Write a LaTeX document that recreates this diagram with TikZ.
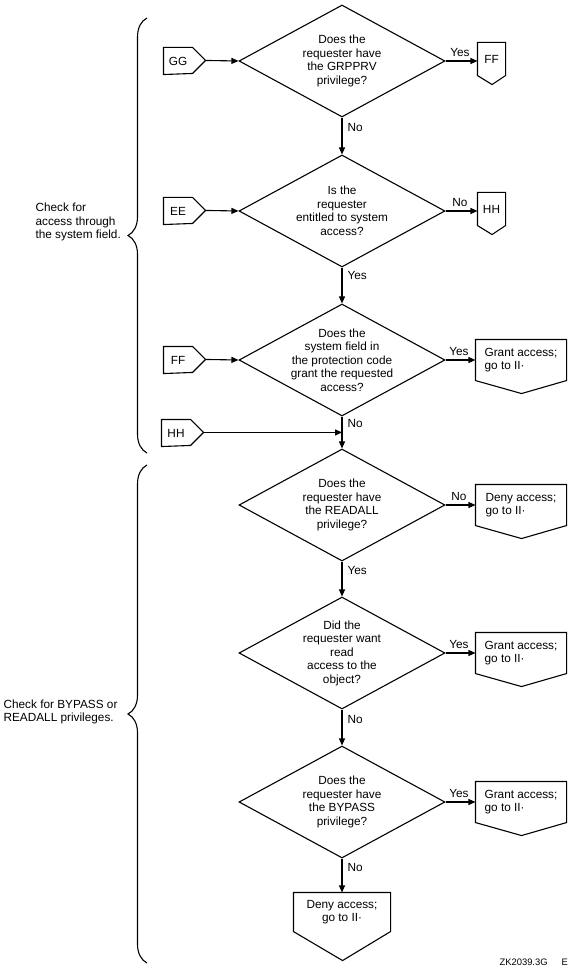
\documentclass[tikz,border=0pt]{standalone}
\usepackage{fontspec}
\setmainfont{Liberation Sans}
\usetikzlibrary{positioning}
\usetikzlibrary{shapes.geometric}
\usetikzlibrary{arrows.meta}
\usetikzlibrary{decorations.pathreplacing}

\begin{document}
\begin{tikzpicture}[x=1pt, y=-1pt, line width=1.1pt,
  every node/.style={font=\fontsize{11.8}{13.5}\selectfont, inner sep=0pt},
  >={Triangle[length=7pt,width=6pt]},
  question/.style={diamond, draw=black, minimum width=206pt, minimum height=112pt},
  qtext/.style={align=center},
  entry/.style={rectangle, minimum width=28pt, minimum height=26pt},
  exit/.style={rectangle, minimum width=27pt, minimum height=32pt},
  outcome/.style={rectangle, minimum width=90pt, minimum height=40pt, align=left}
]
  \useasboundingbox (0,0) rectangle (575,973);

  % system field checks
  \node[question] (q1) at (342, 61) {};
  \node[qtext] (q1t) at (q1) {Does the\\requester have\\the GRPPRV\\privilege?};
  \node[question] (q2) at (342, 211) {};
  \node[qtext] (q2t) at (q2) {Is the\\requester\\entitled to system\\access?};
  \node[question] (q3) at (342, 360) {};
  \node[qtext] (q3t) at (q3) {Does the\\system field in\\the protection code\\grant the requested\\access?};

  \node[entry] (gg) at (178, 61) {GG};
  \node[entry] (ee) at (178, 211) {EE};
  \node[entry] (ff) at (178, 360) {FF};
  \node[entry] (hh) at (176, 433) {HH};
  \draw (gg.north west) -- (gg.north east) -- ++(13,13) coordinate (ggtip) -- ++(-13,13) -- (gg.south west) -- cycle;
  \draw (ee.north west) -- (ee.north east) -- ++(13,13) coordinate (eetip) -- ++(-13,13) -- (ee.south west) -- cycle;
  \draw (ff.north west) -- (ff.north east) -- ++(13,13) coordinate (fftip) -- ++(-13,13) -- (ff.south west) -- cycle;
  \draw (hh.north west) -- (hh.north east) -- ++(13,13) coordinate (hhtip) -- ++(-13,13) -- (hh.south west) -- cycle;

  \node[exit] (ffout) at (491.5, 59) {FF};
  \node[exit] (hhout) at (491.5, 209) {HH};
  \draw (ffout.south west) -- (ffout.north west) -- (ffout.north east) -- (ffout.south east) -- ++(-13.5,9) -- cycle;
  \draw (hhout.south west) -- (hhout.north west) -- (hhout.north east) -- (hhout.south east) -- ++(-13.5,9) -- cycle;

  \node[outcome] (grant1) at (521, 360) {Grant access;\\go to II·};
  \draw (grant1.south west) -- (grant1.north west) -- (grant1.north east) -- (grant1.south east) -- ++(-45,13) -- cycle;

  \draw[->] (ggtip) -- (q1.west);
  \draw[->] (eetip) -- (q2.west);
  \draw[->] (fftip) -- (q3.west);
  \draw[->] (hhtip) -- (hhtip -| q3.south);

  \draw[->] (q1.east) -- node[above=4pt, pos=0.45] (a1) {Yes} (q1.east -| ffout.west);
  \draw[->] (q1.south) -- node[right=5pt, pos=0.27] (a2) {No} (q2.north);
  \draw[->] (q2.east) -- node[above=4pt, pos=0.45] (a3) {No} (q2.east -| hhout.west);
  \draw[->] (q2.south) -- node[right=5pt, pos=0.22] (a4) {Yes} (q3.north);
  \draw[->] (q3.east) -- node[above=4pt, pos=0.45] (a5) {Yes} (grant1.west);

  % privilege checks
  \node[question] (q4) at (342, 505) {};
  \node[qtext] (q4t) at (q4) {Does the\\requester have\\the READALL\\privilege?};
  \node[question] (q5) at (342, 653) {};
  \node[qtext] (q5t) at (q5) {Did the\\requester want\\read\\access to the\\object?};
  \node[question] (q6) at (342, 802) {};
  \node[qtext] (q6t) at (q6) {Does the\\requester have\\the BYPASS\\privilege?};

  \node[outcome] (deny1) at (521, 505) {Deny access;\\go to II·};
  \node[outcome] (grant2) at (521, 653) {Grant access;\\go to II·};
  \node[outcome] (grant3) at (521, 802) {Grant access;\\go to II·};
  \node[rectangle, minimum width=96pt, minimum height=38pt, align=center] (deny2) at (342, 912) {Deny access;\\go to II·};
  \draw (deny1.south west) -- (deny1.north west) -- (deny1.north east) -- (deny1.south east) -- ++(-45,13) -- cycle;
  \draw (grant2.south west) -- (grant2.north west) -- (grant2.north east) -- (grant2.south east) -- ++(-45,13) -- cycle;
  \draw (grant3.south west) -- (grant3.north west) -- (grant3.north east) -- (grant3.south east) -- ++(-45,13) -- cycle;
  \draw (deny2.south west) -- (deny2.north west) -- (deny2.north east) -- (deny2.south east) -- ++(-48,29) -- cycle;

  \draw[->] (q3.south) -- node[right=5pt, pos=0.22] (a6) {No} (q4.north);
  \draw[->] (q4.east) -- node[above=4pt, pos=0.45] (a7) {No} (deny1.west);
  \draw[->] (q4.south) -- node[right=5pt, pos=0.25] (a8) {Yes} (q5.north);
  \draw[->] (q5.east) -- node[above=4pt, pos=0.45] (a9) {Yes} (grant2.west);
  \draw[->] (q5.south) -- node[right=5pt, pos=0.27] (a10) {No} (q6.north);
  \draw[->] (q6.east) -- node[above=4pt, pos=0.45] (a11) {Yes} (grant3.west);
  \draw[->] (q6.south) -- node[right=5pt, pos=0.27] (a12) {No} (deny2.north);

  % braces and notes
  \draw[decorate, decoration={brace, amplitude=19pt}] (147, 453) -- (147, 18);
  \draw[decorate, decoration={brace, amplitude=19pt}] (147, 963) -- (147, 465);
  \node[anchor=west, align=left] (note1) at (35, 222) {Check for\\access through\\the system field.};
  \node[anchor=west, align=left] (note2) at (3, 712) {Check for BYPASS or\\READALL privileges.};

  \node[anchor=west, font=\fontsize{9.4}{11}\selectfont] (fig) at (499, 962) {ZK2039.3G\hspace{14pt}E};
\end{tikzpicture}
\end{document}
